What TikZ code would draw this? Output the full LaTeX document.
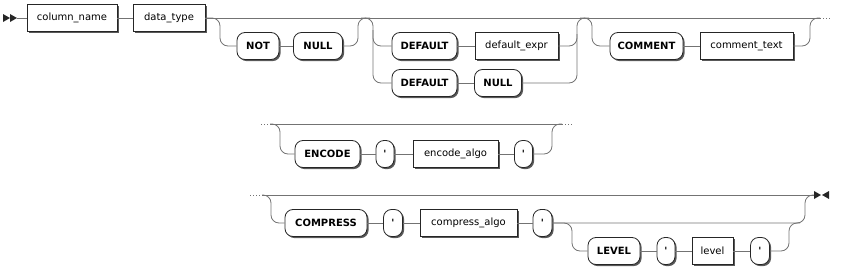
\documentclass[tikz,border=0pt]{standalone}
\usepackage{fontspec}
\newfontfamily\rrfont{DejaVu Sans}
\usetikzlibrary{shadows}
\tikzset{
  rail/.style={draw=black!55, line width=0.8pt},
  dots/.style={draw=black!55, line width=0.8pt, dash pattern=on 1pt off 2pt},
  boxbase/.style={draw=black!85, fill=white, line width=0.8pt, inner sep=0pt,
    minimum height=27pt, font=\rrfont\fontsize{10}{12}\selectfont,
    general shadow={fill=black!65, shadow xshift=1.6pt, shadow yshift=-1.6pt}},
  nterm/.style={boxbase},
  kw/.style={boxbase, rounded corners=8pt, font=\rrfont\bfseries\fontsize{10}{12}\selectfont},
  tip/.style={fill=black!85, draw=none}
}
\begin{document}
\begin{tikzpicture}[x=1pt, y=-1pt]
\useasboundingbox (0,0) rectangle (844,276);

% ---------- row 1 ----------
\node[nterm, minimum width=90pt] (colname) at (72,18) {column\_name};
\node[nterm, minimum width=72pt] (dtype) at (169,18) {data\_type};
\node[kw, minimum width=42pt] (not) at (258,46) {NOT};
\node[kw, minimum width=49pt] (null1) at (318,46) {NULL};
\node[kw, minimum width=65pt] (def1) at (424.5,46) {DEFAULT};
\node[nterm, minimum width=83pt] (expr) at (516.5,46) {default\_expr};
\node[kw, minimum width=65pt] (def2) at (424.5,83) {DEFAULT};
\node[kw, minimum width=47pt] (null2) at (498,83) {NULL};
\node[kw, minimum width=73pt] (comment) at (646.5,46) {COMMENT};
\node[nterm, minimum width=93pt] (ctext) at (746.5,46) {comment\_text};

\coordinate (start) at (17,18);
\coordinate (end1) at (820,18);
\fill[tip] (3,14) -- (10,18) -- (3,22) -- cycle;
\fill[tip] (10,14) -- (17,18) -- (10,22) -- cycle;
\draw[rail] (start) -- (colname.west);
\draw[rail] (colname.east) -- (dtype.west);
\draw[rail] (dtype.east) -- (end1);
\draw[dots] (end1) -- (830,18);

\draw[rail, rounded corners=8pt] (dtype.east) -- (220,18) -- (220,46) -- (not.west);
\draw[rail] (not.east) -- (null1.west);
\draw[rail, rounded corners=8pt] (null1.east) -- (358,46) -- (358,18) -- (370,18);

\draw[rail, rounded corners=8pt] (361,18) -- (373,18) -- (373,83) -- (def2.west);
\draw[rail, rounded corners=8pt] (373,30) -- (373,46) -- (def1.west);
\draw[rail] (def1.east) -- (expr.west);
\draw[rail] (def2.east) -- (null2.west);
\draw[rail, rounded corners=8pt] (expr.east) -- (577,46) -- (577,34);
\draw[rail, rounded corners=8pt] (null2.east) -- (577,83) -- (577,18) -- (589,18);

\draw[rail, rounded corners=8pt] (580,18) -- (592,18) -- (592,46) -- (comment.west);
\draw[rail] (comment.east) -- (ctext.west);
\draw[rail, rounded corners=8pt] (ctext.east) -- (810,46) -- (810,18) -- (end1);

% ---------- row 2 ----------
\node[kw, minimum width=65pt] (encode) at (327.5,154) {ENCODE};
\node[kw, minimum width=18pt] (q1) at (385,154) {'};
\node[nterm, minimum width=85pt] (ealgo) at (455.5,154) {encode\_algo};
\node[kw, minimum width=18pt] (q2) at (523.5,154) {'};

\coordinate (s2) at (270,124);
\coordinate (e2) at (562,124);
\draw[dots] (261,124) -- (s2);
\draw[rail] (s2) -- (e2);
\draw[dots] (e2) -- (572,124);
\draw[rail, rounded corners=8pt] (s2) -- (280,124) -- (280,154) -- (encode.west);
\draw[rail] (encode.east) -- (q1.west);
\draw[rail] (q1.east) -- (ealgo.west);
\draw[rail] (ealgo.east) -- (q2.west);
\draw[rail, rounded corners=8pt] (q2.east) -- (552,154) -- (552,124) -- (e2);

% ---------- row 3 ----------
\node[kw, minimum width=82pt] (compress) at (326,223) {COMPRESS};
\node[kw, minimum width=19pt] (q3) at (393,223) {'};
\node[nterm, minimum width=97pt] (calgo) at (468.5,223) {compress\_algo};
\node[kw, minimum width=19pt] (q4) at (542.5,223) {'};
\node[kw, minimum width=52pt] (levelkw) at (614,251) {LEVEL};
\node[kw, minimum width=18pt] (q5) at (666,251) {'};
\node[nterm, minimum width=41pt] (lvl) at (712.5,251) {level};
\node[kw, minimum width=19pt] (q6) at (760,251) {'};

\coordinate (s3) at (262,195);
\coordinate (e3) at (814,195);
\draw[dots] (250,195) -- (s3);
\draw[rail] (s3) -- (e3);
\fill[tip] (814,191) -- (821,195) -- (814,199) -- cycle;
\fill[tip] (829,191) -- (822,195) -- (829,199) -- cycle;
\draw[rail, rounded corners=8pt] (s3) -- (271,195) -- (271,223) -- (compress.west);
\draw[rail] (compress.east) -- (q3.west);
\draw[rail] (q3.east) -- (calgo.west);
\draw[rail] (calgo.east) -- (q4.west);
\draw[rail, rounded corners=8pt] (q4.east) -- (805,223) -- (805,195) -- (e3);
\draw[rail, rounded corners=8pt] (q4.east) -- (572,223) -- (572,251) -- (levelkw.west);
\draw[rail] (levelkw.east) -- (q5.west);
\draw[rail] (q5.east) -- (lvl.west);
\draw[rail] (lvl.east) -- (q6.west);
\draw[rail, rounded corners=8pt] (q6.east) -- (789,251) -- (789,223) -- (800,223);
\end{tikzpicture}
\end{document}
